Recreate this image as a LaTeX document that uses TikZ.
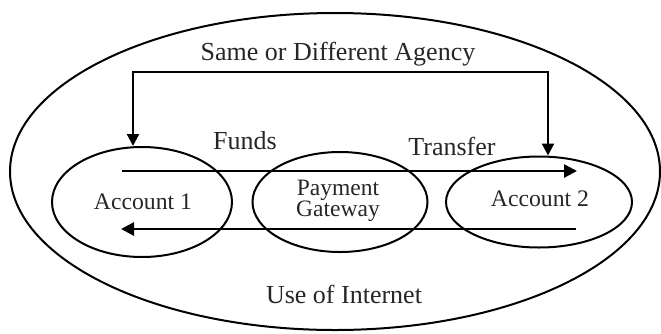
\documentclass[tikz,border=0pt]{standalone}
\usepackage{fontspec}
\setmainfont{Liberation Serif}
\usetikzlibrary{shapes.geometric,arrows.meta}
\tikzset{
  oval/.style={draw=black, ellipse, line width=2pt, inner sep=0pt},
  bigtxt/.style={anchor=base, inner sep=0pt, font=\fontsize{26}{26}\selectfont, text=black!85},
  acctxt/.style={anchor=base, inner sep=0pt, font=\fontsize{23.7}{24}\selectfont, text=black!85},
  gwtxt/.style={inner sep=0pt, align=center, font=\fontsize{23.5}{20}\selectfont, text=black!85},
  flow/.style={line width=2.7pt, -{Triangle[length=13pt,width=13pt]}},
  agency/.style={line width=2.2pt, {Triangle[length=12pt,width=12pt]}-{Triangle[length=12pt,width=12pt]}}
}
\begin{document}
\begin{tikzpicture}[x=1pt,y=-1pt]
\useasboundingbox (0,0) rectangle (661,333);
% outer ellipse
\node[oval, minimum width=650pt, minimum height=317pt] (outer) at (335,171.5) {};
% inner ellipses
\node[oval, minimum width=180pt, minimum height=110pt] (acc1) at (142,202) {};
\node[oval, minimum width=175pt, minimum height=100pt] (pg) at (340,202) {};
\node[oval, minimum width=186pt, minimum height=91pt] (acc2) at (539,202) {};
% labels
\node[bigtxt] (same) at (338,60) {Same or Different Agency};
\node[bigtxt] (funds) at (245,149) {Funds};
\node[bigtxt] (transfer) at (452,155) {Transfer};
\node[bigtxt] (use) at (344,303) {Use of Internet};
\node[acctxt] (a1) at (143,209) {Account 1};
\node[acctxt] (a2) at (540,206) {Account 2};
\node[gwtxt, anchor=base] (pay) at (338,216.7) {Payment\\Gateway};
% agency bracket
\coordinate (bl) at (133,72);
\coordinate (br) at (548,72);
\draw[agency] (acc1.north -| bl) -- (bl) -- (br) -- (acc2.north -| br);
% flow arrows
\coordinate (t1) at (122,171);
\coordinate (t2) at (577,171);
\coordinate (b1) at (576,229);
\coordinate (b2) at (121,229);
\draw[flow] (t1) -- (t2);
\draw[flow] (b1) -- (b2);
\end{tikzpicture}
\end{document}
